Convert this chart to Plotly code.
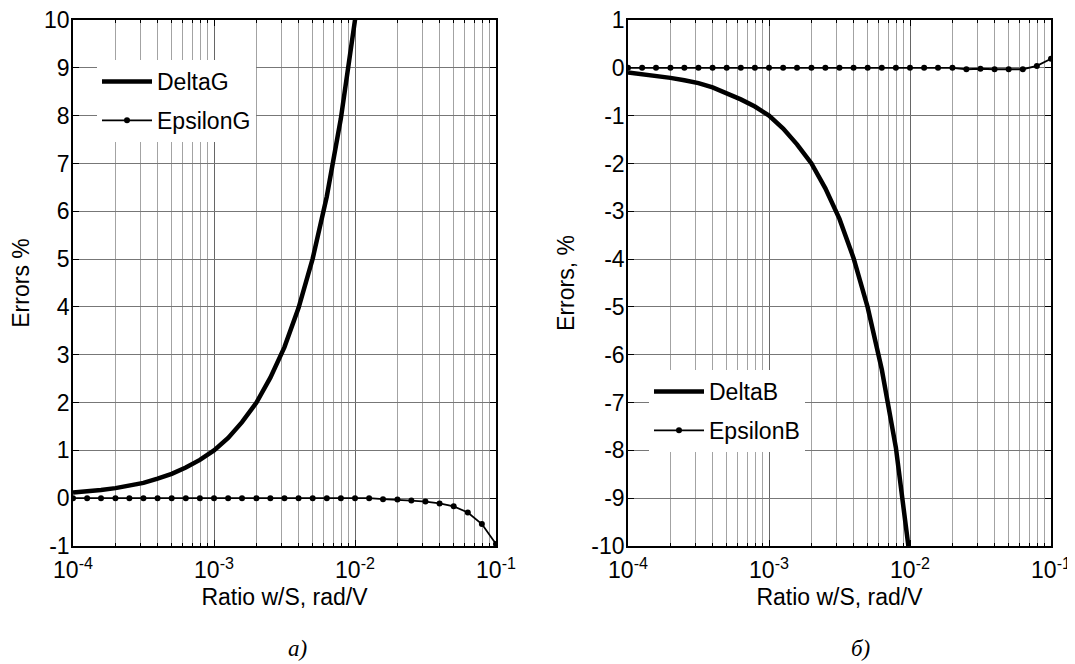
import plotly.graph_objects as go

# ---- data ----
X = [1.00e-4, 1.26e-4, 1.58e-4, 2.00e-4, 2.51e-4, 3.16e-4, 3.98e-4, 5.01e-4, 6.31e-4, 7.94e-4,
     1.00e-3, 1.26e-3, 1.58e-3, 2.00e-3, 2.51e-3, 3.16e-3, 3.98e-3, 5.01e-3, 6.31e-3, 7.94e-3,
     1.00e-2, 1.26e-2, 1.58e-2, 2.00e-2, 2.51e-2, 3.16e-2, 3.98e-2, 5.01e-2, 6.31e-2, 7.94e-2,
     1.00e-1]

DELTA_G = [0.12, 0.14, 0.17, 0.21, 0.26, 0.32, 0.41, 0.51, 0.64, 0.80,
           1.00, 1.26, 1.59, 2.00, 2.52, 3.16, 3.98, 5.01, 6.31, 7.94,
           10.0, 12.6]
EPS_G = [0, 0, 0, 0, 0, 0, 0, 0, 0, 0,
         0, 0, 0, 0, 0, 0, 0, 0, 0, 0,
         0, 0.0, -0.02, -0.03, -0.05, -0.07, -0.11, -0.17, -0.30, -0.54,
         -0.96]

DELTA_B = [-0.10, -0.13, -0.16, -0.21, -0.26, -0.32, -0.41, -0.53, -0.66, -0.81,
           -1.00, -1.27, -1.60, -2.00, -2.52, -3.16, -3.98, -5.01, -6.31, -7.94,
           -10.0, -12.6]
EPS_B = [0, 0, 0, 0, 0, 0, 0, 0, 0, 0,
         0, 0, 0, 0, 0, 0, 0, 0, 0, 0,
         0, 0, 0, 0, -0.03, -0.02, -0.03, -0.03, -0.03, 0.04,
         0.19]

X_TICKS = [1e-4, 1e-3, 1e-2, 1e-1]
X_TICK_TEXT = ["10<sup>-4</sup>", "10<sup>-3</sup>", "10<sup>-2</sup>", "10<sup>-1</sup>"]
X_MINOR = [m * d for d in (1e-4, 1e-3, 1e-2) for m in range(2, 10)]
Y_TICKS_A = [-1, 0, 1, 2, 3, 4, 5, 6, 7, 8, 9, 10]
Y_TEXT_A = ["-1", "0", "1", "2", "3", "4", "5", "6", "7", "8", "9", "10"]
Y_TICKS_B = [-10, -9, -8, -7, -6, -5, -4, -3, -2, -1, 0, 1]
Y_TEXT_B = ["-10", "-9", "-8", "-7", "-6", "-5", "-4", "-3", "-2", "-1", "0", "1"]

FONT = "Liberation Sans, Arial, sans-serif"
SERIF = "Liberation Serif, Times New Roman, serif"
FS = 23
OFF = 8                      # default page body margin
W, H = 1075 - OFF, 664 - OFF


def px_x(p):
    return (p - OFF) / W


def px_y(p):
    return 1 - (p - OFF) / H


fig = go.Figure()

fig.add_trace(go.Scatter(x=X[:len(DELTA_G)], y=DELTA_G, mode="lines", name="DeltaG",
                         line=dict(color="black", width=4.5), xaxis="x", yaxis="y",
                         legend="legend", legendgroup="g1"))
fig.add_trace(go.Scatter(x=X, y=EPS_G, mode="lines+markers", name="EpsilonG",
                         line=dict(color="black", width=1.8),
                         marker=dict(color="black", size=6),
                         xaxis="x", yaxis="y", legend="legend", legendgroup="g2"))
fig.add_trace(go.Scatter(x=X[:len(DELTA_B)], y=DELTA_B, mode="lines", name="DeltaB",
                         line=dict(color="black", width=4.5), xaxis="x2", yaxis="y2",
                         legend="legend2", legendgroup="g3"))
fig.add_trace(go.Scatter(x=X, y=EPS_B, mode="lines+markers", name="EpsilonB",
                         line=dict(color="black", width=1.8),
                         marker=dict(color="black", size=6),
                         xaxis="x2", yaxis="y2", legend="legend2", legendgroup="g4"))


def xaxis(domain, anchor):
    return dict(type="log", domain=domain, anchor=anchor, range=[-4, -1],
                tickmode="array", tickvals=X_TICKS, ticktext=X_TICK_TEXT,
                ticks="inside", ticklen=6, tickcolor="black", tickwidth=1,
                ticklabelstandoff=3, ticklabeloverflow="allow",
                showline=True, linecolor="black", linewidth=1.6, mirror="ticks",
                showgrid=True, gridcolor="#666666", gridwidth=1,
                minor=dict(tickmode="array", tickvals=X_MINOR, ticks="inside", ticklen=3,
                           tickcolor="black", showgrid=True, gridcolor="#a3a3a3", gridwidth=1),
                zeroline=False, automargin=False,
                tickfont=dict(family=FONT, size=FS, color="black"),
                title=dict(text="Ratio w/S, rad/V", font=dict(family=FONT, size=FS, color="black"),
                           standoff=6))


def yaxis(domain, anchor, rng, ticks, text, title):
    return dict(domain=domain, anchor=anchor, range=rng, tickmode="array", tickvals=ticks,
                ticktext=text,
                ticks="inside", ticklen=6, tickcolor="black", tickwidth=1,
                ticklabelstandoff=-3, ticklabeloverflow="allow",
                showline=True, linecolor="black", linewidth=1.6, mirror="ticks",
                showgrid=True, gridcolor="#777777", gridwidth=1, zeroline=False,
                automargin=False,
                tickfont=dict(family=FONT, size=FS, color="black"),
                title=dict(text=title, font=dict(family=FONT, size=FS, color="black"),
                           standoff=10))


ydom = [px_y(546), px_y(20)]
legend_common = dict(xanchor="left", yanchor="top", bgcolor="white", borderwidth=0,
                     tracegroupgap=6, traceorder="grouped", itemwidth=50,
                     font=dict(family=FONT, size=FS, color="black"))
fig.update_layout(
    width=W, height=H,
    margin=dict(l=0, r=0, t=0, b=0),
    paper_bgcolor="white", plot_bgcolor="white",
    font=dict(family=FONT, size=FS, color="black"),
    xaxis=xaxis([px_x(73), px_x(496)], "y"),
    yaxis=yaxis(ydom, "x", [-1, 10], Y_TICKS_A, Y_TEXT_A, "Errors %"),
    xaxis2=xaxis([px_x(628), px_x(1051)], "y2"),
    yaxis2=yaxis(ydom, "x2", [-10, 1], Y_TICKS_B, Y_TEXT_B, "Errors, %"),
    legend=dict(x=px_x(97), y=px_y(60), **legend_common),
    legend2=dict(x=px_x(649), y=px_y(370), **legend_common),
    showlegend=True,
    annotations=[
        dict(text="<i>а)</i>", x=px_x(297), y=px_y(648), xref="paper", yref="paper",
             xanchor="center", yanchor="middle",
             showarrow=False, font=dict(family=SERIF, size=23, color="black")),
        dict(text="<i>б)</i>", x=px_x(860), y=px_y(648), xref="paper", yref="paper",
             xanchor="center", yanchor="middle",
             showarrow=False, font=dict(family=SERIF, size=23, color="black")),
    ],
)

fig.write_html("out.html")
